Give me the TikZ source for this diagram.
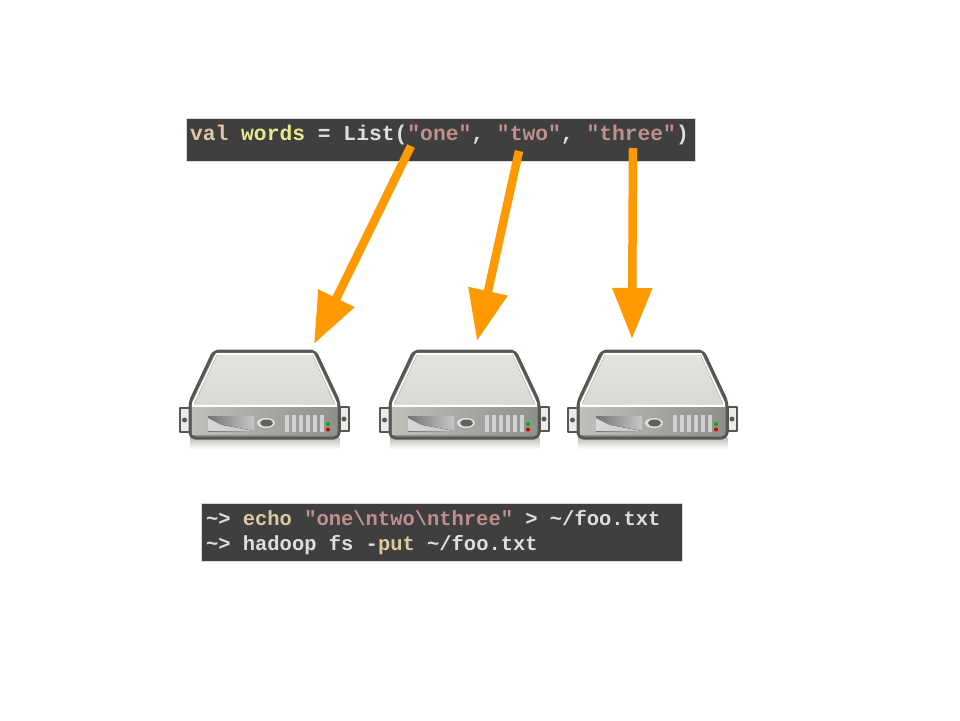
\documentclass[tikz,border=0pt]{standalone}
\usepackage{fontspec}
\newfontfamily\codefont{Liberation Mono}[BoldFont={Liberation Mono Bold}]
\usetikzlibrary{arrows.meta,fadings}
\definecolor{codebg}{HTML}{3F3F3F}
\definecolor{codeplain}{HTML}{DEDEDE}
\definecolor{codekey}{HTML}{DCC9A0}
\definecolor{codename}{HTML}{E8E88C}
\definecolor{codestr}{HTML}{C08F8F}
\definecolor{bigorange}{HTML}{FF9900}
\definecolor{srvedge}{HTML}{555753}
\definecolor{srvtop}{HTML}{E2E4DF}
\definecolor{srvtopb}{HTML}{D6DAD3}
\definecolor{srvfront}{HTML}{BEC0BA}
\definecolor{srvfrontb}{HTML}{8E908C}
\newcommand{\codespace}{\spaceskip=.6em\xspaceskip=.6em}
\tikzset{
  codebox/.style={fill=codebg,draw=black!15,line width=.3pt,inner sep=.08cm,align=left,
    text=codeplain},
  bigarrow/.style={bigorange,line width=.17cm,-{Triangle[length=1.02cm,width=.76cm]}},
  srvline/.style={draw=srvedge,line width=.06cm,line join=round},
}
\begin{document}
\begin{tikzpicture}[x=.02cm,y=-.02cm]
\useasboundingbox (0,0) rectangle (960,720);
\fill[white] (0,0) rectangle (960,720);

% servers
\foreach \x/\name in {0/srva,200/srvb,388/srvc}
{
\begin{scope}[shift={(\x,0)}]
  \fill[black,opacity=.25,path fading=south] (190,438) rectangle (340,449);
  \draw[srvline,line width=.05cm,fill=white!92!black] (180,408) rectangle (190,432);
  \draw[srvline,line width=.05cm,fill=white!92!black] (340,407) rectangle (349,431);
  \fill[gray!70!black] (184.5,420) circle (2.5);
  \fill[gray!70!black] (344,419) circle (2.5);
  \draw[srvline,fill=srvfrontb,rounded corners=3]
    (214,351) -- (315,351) -- (339,402) -- (339,438) -- (190,438) -- (190,402) -- cycle;
  \fill[white] (216,353) -- (313.5,353) -- (337,403) -- (337,407) -- (192,407) -- (192,403) -- cycle;
  \fill[top color=srvtop,bottom color=srvtopb] (217,355) -- (312.5,355) -- (335,404) -- (194,404) -- cycle;
  \fill[left color=srvfront,right color=srvfrontb] (192,407) rectangle (337,434);
  \fill[left color=black!55,right color=black!22] (208,416) rectangle (254,431);
  \fill[left color=black!15,right color=black!24] (208,431) -- (254,431) -- (222,425) -- (208,418) -- cycle;
  \fill[black!12] (266,423) ellipse (9 and 5);
  \fill[black!62] (266.5,423) ellipse (6.5 and 3.5);
  \foreach \b in {0,1,2,3,4,5}
  {
    \fill[black!18] (285+\b*7,415) rectangle +(3.5,17);
  }
  \fill[green!70!black] (328,424) circle (2);
  \fill[red!85!black] (328,429.5) circle (2);
  \node[inner sep=0pt,minimum width=3.4cm,minimum height=2cm] (\name) at (264,395) {};
\end{scope}
}

% code boxes
\node[codebox,text width=10.02cm,text height=.36cm,text depth=.34cm,font=\codefont\bfseries\fontsize{12.13}{14}\selectfont] (listcode) at (440.5,139.5)
  {\codespace\textcolor{codekey}{val} \textcolor{codename}{words} = List(\textcolor{codestr}{"one"}, \textcolor{codestr}{"two"}, \textcolor{codestr}{"three"})};
\node[codebox,text width=9.46cm,minimum height=1.16cm,font=\codefont\bfseries\fontsize{11.65}{14.2}\selectfont] (shellcode) at (441.5,532.5)
  {\codespace\hspace{.02cm}\textasciitilde> \textcolor{codekey}{echo} \textcolor{codestr}{"one\textbackslash ntwo\textbackslash nthree"} > \textasciitilde/foo.txt\\
   \hspace*{.02cm}\textasciitilde> hadoop fs -\textcolor{codekey}{put} \textasciitilde/foo.txt};

% arrows
\coordinate (stra) at (411,146);
\coordinate (strb) at (519,151);
\coordinate (strc) at (633,148);
\coordinate (tipa) at (314,344);
\coordinate (tipb) at (477,341);
\coordinate (tipc) at (632,339);
\draw[bigarrow] (stra) -- (tipa);
\draw[bigarrow] (strb) -- (tipb);
\draw[bigarrow] (strc) -- (tipc);
\end{tikzpicture}
\end{document}
